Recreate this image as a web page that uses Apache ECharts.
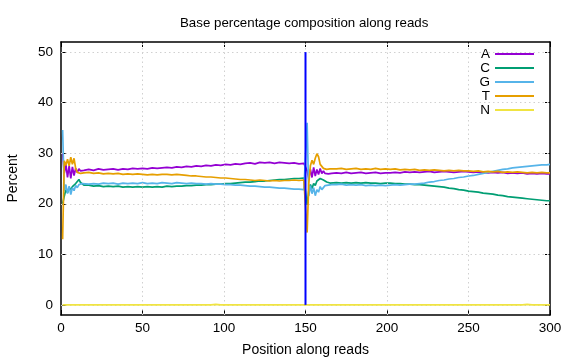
<!DOCTYPE html>
<html><head><meta charset="utf-8">
<script src="https://cdn.jsdelivr.net/npm/echarts@6/dist/echarts.min.js"></script>
<style>html,body{margin:0;padding:0;background:#fff}#c{width:576px;height:360px}</style>
</head><body><div id="c"></div>
<script>
const positions = [1,2,3,4,5,6,7,8,9,10,11,12,13,14,
17,20,23,26,29,32,35,38,41,44,47,50,53,56,59,62,65,68,71,74,77,80,83,86,89,92,95,98,101,104,107,110,113,116,119,122,125,128,131,134,137,140,143,146,149,
150,
151,152,153,154,155,156,157,158,159,160,161,162,163,164,165,166,
169,172,175,178,181,184,187,190,193,196,199,202,205,208,211,214,217,220,223,226,229,232,235,238,241,244,247,250,253,256,259,262,265,268,271,274,277,280,283,286,289,292,295,298,
300];

const baseA = [30.0,26.0,27.8,25.2,27.5,25.0,27.3,25.6,27.0,26.2,26.9,26.5,26.8,26.6,
26.8,26.6,26.9,26.7,26.8,26.9,26.7,26.9,26.8,27.0,26.9,27.0,26.9,27.1,27.0,27.1,27.2,27.1,27.3,27.2,27.4,27.3,27.5,27.4,27.6,27.5,27.7,27.6,27.8,27.7,27.9,27.8,28.0,28.1,27.9,28.2,28.1,28.2,28.0,28.2,28.1,28.0,28.1,27.9,28.0,
28.0,
26.5,25.0,26.8,25.2,27.2,25.5,26.8,25.8,27.0,26.0,26.5,26.0,26.3,25.9,26.2,26.0,
26.1,26.0,26.2,26.0,26.1,26.2,26.0,26.1,26.2,26.0,26.1,26.1,26.2,26.1,26.3,26.2,26.3,26.2,26.3,26.4,26.2,26.3,26.4,26.3,26.2,26.3,26.4,26.3,26.2,26.3,26.2,26.1,26.2,26.1,26.2,26.0,26.1,26.0,26.1,25.9,26.0,25.9,26.0,25.9,
25.9];

const baseC = [20.0,21.5,22.8,22.2,23.2,22.8,23.4,23.3,24.0,24.3,24.8,24.2,23.9,23.7,
23.7,23.5,23.6,23.4,23.5,23.4,23.5,23.3,23.4,23.3,23.4,23.3,23.4,23.3,23.4,23.3,23.5,23.4,23.5,23.5,23.6,23.6,23.7,23.7,23.8,23.8,23.9,23.9,24.0,24.0,24.1,24.2,24.3,24.3,24.4,24.5,24.5,24.6,24.7,24.8,24.8,24.9,25.0,25.0,25.1,
25.1,
19.8,22.5,23.8,23.0,24.0,23.6,24.5,24.2,25.0,25.2,24.7,24.4,24.3,24.2,24.1,24.2,
24.2,24.1,24.2,24.1,24.2,24.1,24.2,24.1,24.1,24.0,24.1,24.1,24.0,24.0,23.9,23.9,23.8,23.8,23.7,23.6,23.5,23.4,23.3,23.1,23.0,22.8,22.7,22.5,22.4,22.3,22.1,22.0,21.9,21.7,21.6,21.4,21.3,21.2,21.1,21.0,20.9,20.8,20.7,20.6,
20.6];

const baseG = [34.6,22.5,23.8,22.0,23.5,21.8,23.2,22.6,23.6,23.2,23.8,23.6,24.0,23.9,
23.9,24.0,23.9,24.1,24.0,24.1,23.9,24.1,24.0,24.1,24.0,24.2,24.0,24.1,24.0,24.2,24.1,24.0,24.2,24.1,24.0,24.1,24.0,24.0,23.9,24.0,23.9,23.9,23.8,23.8,23.7,23.7,23.6,23.5,23.5,23.4,23.3,23.3,23.2,23.1,23.1,23.0,22.9,22.9,22.8,
22.8,
36.0,21.5,23.6,22.0,23.2,21.6,22.8,22.3,23.4,22.8,23.2,23.6,23.3,23.7,23.6,23.8,
23.8,23.9,23.7,23.8,23.7,23.8,23.6,23.7,23.6,23.7,23.6,23.7,23.8,23.7,23.8,23.9,23.9,24.0,24.1,24.3,24.4,24.6,24.7,24.9,25.0,25.2,25.3,25.5,25.6,25.8,26.0,26.2,26.4,26.6,26.8,26.9,27.1,27.2,27.3,27.4,27.5,27.6,27.7,27.7,
27.8];

const baseT = [13.0,28.5,27.6,28.8,27.5,29.2,27.8,29.0,27.0,26.2,26.4,26.0,26.3,26.1,
26.2,26.0,26.1,25.9,26.0,25.9,26.0,25.8,25.9,25.8,25.9,25.8,25.7,25.8,25.7,25.8,25.8,25.7,25.8,25.7,25.6,25.5,25.5,25.4,25.3,25.3,25.2,25.1,25.1,25.0,24.9,24.8,24.8,24.7,24.6,24.7,24.6,24.5,24.6,24.5,24.6,24.6,24.7,24.6,24.7,
24.7,
14.3,24.0,27.5,28.6,27.8,29.0,29.9,29.3,27.8,27.5,27.0,27.3,26.8,27.1,26.9,27.0,
26.9,27.0,26.8,26.9,27.0,26.8,26.9,26.8,27.0,26.8,26.9,26.8,26.9,26.7,26.8,26.7,26.8,26.6,26.7,26.6,26.7,26.6,26.5,26.6,26.5,26.6,26.5,26.5,26.4,26.5,26.3,26.4,26.3,26.4,26.2,26.3,26.2,26.3,26.2,26.1,26.2,26.1,26.2,26.1,
26.1];

const baseN = [0,0,0,0,0,0,0,0,0,0,0,0,0,0,
0,0,0,0,0,0,0,0,0,0,0,0,0,0,0,0,0,0,0,0,0,0,0,0,0,0,0.1,0,0,0,0,0,0,0,0,0,0,0,0,0,0,0,0,0,0,
0,
0,0,0,0,0,0,0,0,0,0,0,0,0,0,0,0,
0,0,0,0,0,0,0,0,0,0,0,0,0,0,0,0,0,0,0,0,0,0,0,0,0,0,0,0,0,0,0,0,0,0,0,0,0,0,0,0.1,0,0,0,0,
0];

const seriesNames = ['A','C','G','T','N'];
const seriesColors = ['#9400d3','#009e73','#56b4e9','#e69f00','#f0e442'];
const xTicks = [0,50,100,150,200,250,300];
const yTicks = [0,10,20,30,40,50];
const boundaryX = 150;
const boundaryY = [0,50];

const FONT = "'Liberation Sans', Arial, sans-serif";
const valueSets = [baseA, baseC, baseG, baseT, baseN];
const pair = arr => positions.map((p,i)=>[p, arr[i]]);

const gridMarks = yTicks.map(v=>({yAxis:v})).concat(xTicks.slice(1,-1).map(v=>({xAxis:v})));

const series = [{
  type:'line', name:'grid', data:[], silent:true, z:1,
  markLine:{silent:true, symbol:['none','none'], label:{show:false}, animation:false,
    lineStyle:{color:'#d0d0d0', type:[1.5,3], width:1}, data:gridMarks}
}];
seriesNames.forEach((n,i)=>{
  series.push({type:'line', name:n, data:pair(valueSets[i]), showSymbol:false, symbol:'none',
    lineStyle:{color:seriesColors[i], width:1.7}, itemStyle:{color:seriesColors[i]}, z:2+i});
});
series.push({type:'line', name:'boundary', data:[[boundaryX,boundaryY[0]],[boundaryX,boundaryY[1]]],
  showSymbol:false, symbol:'none', lineStyle:{color:'#0000ff', width:2}, z:10});

const axisBase = {
  axisLine:{show:true, onZero:false, lineStyle:{color:'#000', width:1.5}},
  axisTick:{show:true, inside:true, length:5, lineStyle:{color:'#000', width:1}},
  splitLine:{show:false}
};

const chart = echarts.init(document.getElementById('c'), null, {renderer:'canvas'});
chart.setOption({
  animation:false,
  backgroundColor:'#fff',
  title:{text:'Base percentage composition along reads', left:175, top:12,
    textStyle:{fontFamily:FONT, fontSize:13.3, fontWeight:'normal', color:'#000'}},
  legend:{data:seriesNames, orient:'vertical', right:42, top:47, align:'right', icon:'rect',
    itemWidth:39, itemHeight:2, itemGap:0, padding:0,
    textStyle:{fontFamily:FONT, fontSize:13.5, color:'#000', padding:[0,0,0,0]}},
  grid:{left:61, right:26, top:42, bottom:45, containLabel:false, outerBoundsMode:'none'},
  xAxis:[
    Object.assign({}, axisBase, {type:'value', min:0, max:300, interval:50, position:'bottom',
      axisLabel:{fontFamily:FONT, fontSize:13.5, color:'#000', margin:6},
      name:'Position along reads', nameLocation:'middle', nameGap:28,
      nameTextStyle:{fontFamily:FONT, fontSize:14, color:'#000'}}),
    Object.assign({}, axisBase, {type:'value', min:0, max:300, interval:50, position:'top',
      axisLabel:{show:false}})
  ],
  yAxis:[
    Object.assign({}, axisBase, {type:'value', min:-2, max:52, position:'left',
      axisTick:{show:true, inside:true, length:5, customValues:yTicks, lineStyle:{color:'#000', width:1}},
      axisLabel:{fontFamily:FONT, fontSize:13.5, color:'#000', margin:8, customValues:yTicks},
      name:'Percent', nameLocation:'middle', nameGap:41, nameRotate:90,
      nameTextStyle:{fontFamily:FONT, fontSize:14, color:'#000'}}),
    Object.assign({}, axisBase, {type:'value', min:-2, max:52, position:'right',
      axisTick:{show:true, inside:true, length:5, customValues:yTicks, lineStyle:{color:'#000', width:1}},
      axisLabel:{show:false, customValues:yTicks}})
  ],
  series: series
});
</script>
</body></html>
